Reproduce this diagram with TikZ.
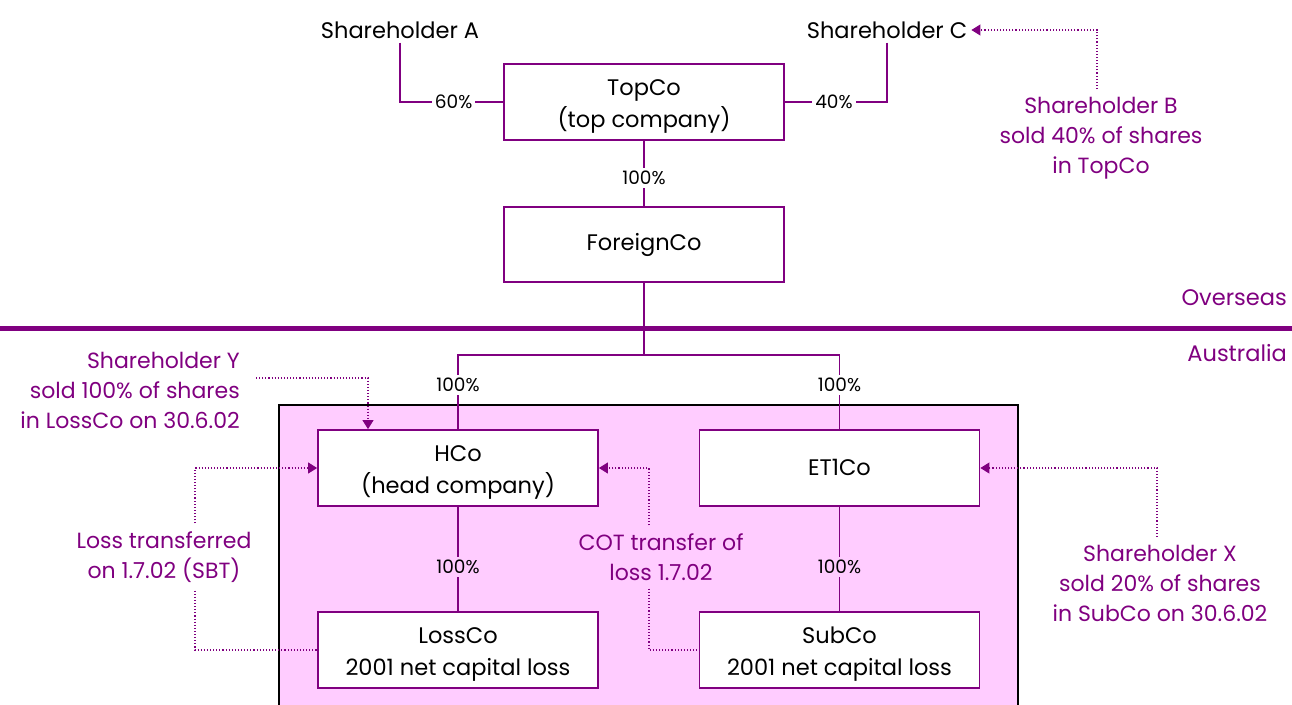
\documentclass[tikz,border=0pt]{standalone}
\usepackage{fontspec}
\setmainfont{Poppins}
\usetikzlibrary{arrows.meta}
\definecolor{purp}{RGB}{128,0,128}
\definecolor{pinkbg}{RGB}{255,204,255}
\tikzset{
  x=1pt,y=-1pt,
  cobox/.style={draw=purp,line width=1.8pt,fill=white,minimum width=280pt,minimum height=76pt,align=center,font=\fontsize{22.5}{32}\selectfont,inner sep=0pt},
  cotext/.style={align=center,font=\fontsize{22.5}{32}\selectfont,inner sep=0pt},
  link/.style={draw=purp,line width=1.8pt},
  pct/.style={fill=white,font=\fontsize{18.5}{20}\selectfont,inner sep=3pt},
  pctp/.style={pct,fill=pinkbg},
  plain/.style={font=\fontsize{22.5}{30}\selectfont,inner sep=4pt},
  note/.style={text=purp,align=center,font=\fontsize{22}{30}\selectfont,inner sep=8pt},
  noteline/.style={draw=purp,line width=1.1pt,dotted},
  notearrow/.style={noteline,-{Triangle[length=9pt,width=11pt]}},
}
\begin{document}
\begin{tikzpicture}
\useasboundingbox (0,0) rectangle (1292,704);
% Australian group background
\fill[pinkbg] (279,405) rectangle (1018,712);
\draw[black,line width=1.5pt] (279,712) -- (279,405) -- (1018,405) -- (1018,712);
% jurisdiction line
\draw[purp,line width=5pt] (0,328) -- (1292,328);
\node[plain,anchor=east,text=purp] (ov) at (1291,298) {Overseas};
\node[plain,anchor=east,text=purp] (au) at (1291,353) {Australia};
% companies
\node[cobox] (top) at (644,102) {};
\node[cotext] (topT) at ([yshift=-4pt]top.center) {TopCo\\(top company)};
\node[cobox,minimum height=75pt] (for) at (644,244.5) {ForeignCo};
\node[cobox] (hco) at (458,468) {};
\node[cotext] (hcoT) at ([yshift=-4pt]hco.center) {HCo\\(head company)};
\node[cobox] (et1) at (839.5,468) {\raisebox{2pt}{ET1Co}};
\node[cobox] (loss) at (458,650) {};
\node[cotext] (lossT) at ([yshift=-4pt]loss.center) {LossCo\\2001 net capital loss};
\node[cobox] (sub) at (839.5,650) {};
\node[cotext] (subT) at ([yshift=-4pt]sub.center) {SubCo\\2001 net capital loss};
% shareholders
\node[plain] (shA) at (400,30) {Shareholder A};
\node[plain] (shC) at (887,30) {Shareholder C};
% ownership links
\draw[link] (shA.south) |- (top.west) node[pct,pos=0.76] {60\%};
\draw[link] (shC.south) |- (top.east) node[pct,pos=0.76] {40\%};
\draw[link] (top.south) -- (for.north) node[pct,midway,yshift=-4.5pt] {100\%};
\coordinate (split) at (644,355);
\draw[link] (for.south) -- (split);
\draw[link] (split) -| (hco.north) node[pct,pos=0.7] {100\%};
\draw[link] (split) -| (et1.north) node[pct,pos=0.7] {100\%};
\draw[link] (hco.south) -- (loss.north) node[pctp,midway,yshift=-8pt] {100\%};
\draw[link] (et1.south) -- (sub.north) node[pctp,midway,yshift=-8pt] {100\%};
% notes
\node[note,anchor=north] (nB) at (1101,89) {Shareholder B\\sold 40\% of shares\\in TopCo};
\draw[notearrow] ([xshift=-4pt]nB.north) |- (shC.east);
\node[note,align=right,anchor=east,inner sep=0pt] (nY) at (240,390) {Shareholder Y\\sold 100\% of shares\\in LossCo on 30.6.02};
\coordinate (yS) at (256,378);
\draw[notearrow] (yS) -| ([xshift=-90pt]hco.north);
\node[note] (nL) at (164,557) {Loss transferred\\on 1.7.02 (SBT)};
\draw[notearrow] ([xshift=31pt]nL.north) |- (hco.west);
\draw[noteline] ([xshift=31pt]nL.south) |- (loss.west);
\node[note] (nC) at (661,557) {COT transfer of\\loss 1.7.02};
\draw[notearrow] ([xshift=-12pt]nC.north) |- (hco.east);
\draw[noteline] ([xshift=-12pt]nC.south) |- (sub.west);
\node[note,anchor=north] (nX) at (1160,537) {Shareholder X\\sold 20\% of shares\\in SubCo on 30.6.02};
\draw[notearrow] ([xshift=-3pt]nX.north) |- (et1.east);
\end{tikzpicture}
\end{document}
